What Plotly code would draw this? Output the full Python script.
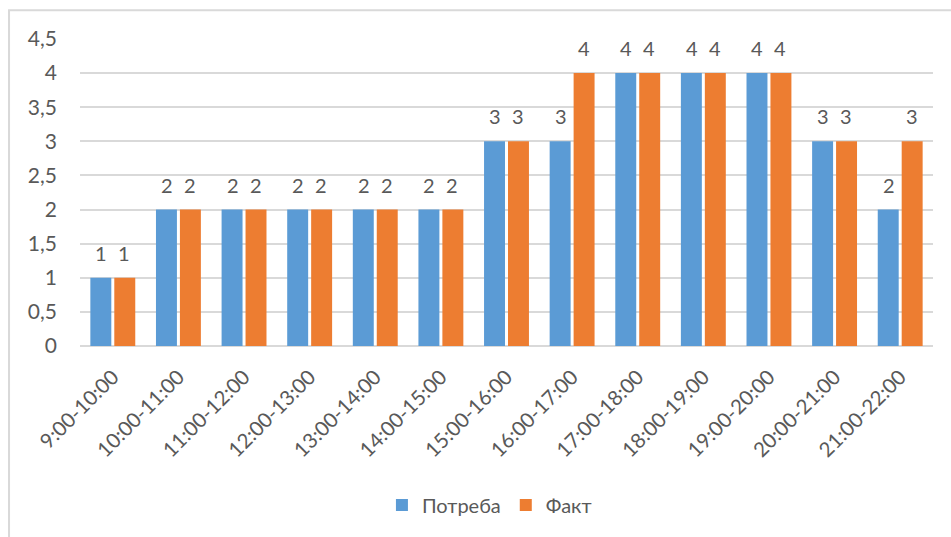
import plotly.graph_objects as go

categories = ["9:00-10:00", "10:00-11:00", "11:00-12:00", "12:00-13:00", "13:00-14:00",
              "14:00-15:00", "15:00-16:00", "16:00-17:00", "17:00-18:00", "18:00-19:00",
              "19:00-20:00", "20:00-21:00", "21:00-22:00"]
potreba = [1, 2, 2, 2, 2, 2, 3, 3, 4, 4, 4, 3, 2]
fakt = [1, 2, 2, 2, 2, 2, 3, 4, 4, 4, 4, 3, 3]
y_ticks = [0, 0.5, 1, 1.5, 2, 2.5, 3, 3.5, 4, 4.5]
y_tick_labels = ["0", "0,5", "1", "1,5", "2", "2,5", "3", "3,5", "4", "4,5"]

FONT = "Lato"
GRAY = "#595959"
BLUE = "#5B9BD5"
ORANGE = "#ED7D31"

fig = go.Figure()
fig.add_trace(go.Bar(x=categories, y=potreba, name="Потреба",
                     marker=dict(color=BLUE, line=dict(width=0))))
fig.add_trace(go.Bar(x=categories, y=fakt, name="Факт",
                     marker=dict(color=ORANGE, line=dict(width=0))))

annotations = []
for series, shift in ((potreba, -11.5), (fakt, 11.5)):
    for c, v in zip(categories, series):
        annotations.append(dict(x=c, y=v, xref="x", yref="y", text=str(v),
                                showarrow=False, xshift=shift, yshift=11,
                                yanchor="bottom",
                                font=dict(family=FONT, size=20, color=GRAY)))

fig.update_layout(
    width=951, height=537,
    margin=dict(l=80, r=18, t=39, b=189),
    paper_bgcolor="white", plot_bgcolor="white",
    barmode="group", bargap=0.27, bargroupgap=0.125,
    font=dict(family=FONT, size=20, color=GRAY),
    showlegend=True,
    legend=dict(orientation="h", x=0.48, xanchor="center", y=-0.518, yanchor="middle",
                font=dict(family=FONT, size=20, color=GRAY), itemwidth=30,
                traceorder="normal"),
    annotations=annotations,
    shapes=[dict(type="rect", xref="paper", yref="paper",
                 x0=-0.0832, x1=1.2, y0=-1.0, y1=1.0939,
                 line=dict(color="#D9D9D9", width=2), layer="below")],
)
fig.update_xaxes(showgrid=False, showline=False, ticks="", tickangle=-45,
                 tickfont=dict(family=FONT, size=20.5, color=GRAY), ticklabelstandoff=14)
fig.update_yaxes(range=[0, 4.5], tickvals=y_ticks, ticktext=y_tick_labels,
                 showgrid=True, gridcolor="#D9D9D9", gridwidth=1.5,
                 zeroline=True, zerolinecolor="#D9D9D9", zerolinewidth=1.5,
                 showline=False, ticks="",
                 tickfont=dict(family=FONT, size=21, color=GRAY), ticklabelstandoff=22)

fig.write_html("out.html")
